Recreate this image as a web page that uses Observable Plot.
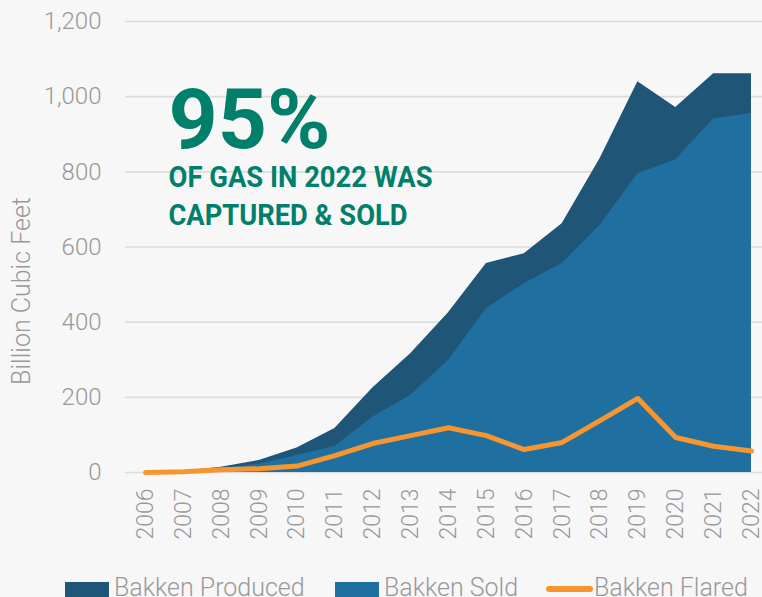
<!DOCTYPE html>
<html><head><meta charset="utf-8">
<script src="https://cdn.jsdelivr.net/npm/d3@7"></script>
<script src="https://cdn.jsdelivr.net/npm/@observablehq/plot@0.6"></script>
<style>
html,body{margin:0;padding:0;background:#f7f7f7;}
body{width:762px;height:597px;overflow:hidden;position:relative;font-family:Roboto,sans-serif;}
#chart{position:absolute;left:0;top:0;}
.lg{position:absolute;font-family:Roboto,sans-serif;font-weight:300;font-size:25px;color:#999;line-height:25px;white-space:nowrap;}
.sw{position:absolute;}
</style></head>
<body>
<div id="chart"></div>
<div id="legend"></div>
<script>
const years = [2006,2007,2008,2009,2010,2011,2012,2013,2014,2015,2016,2017,2018,2019,2020,2021,2022];
const produced = [0,4,14,32,65,117,225,316,425,556,582,662,835,1040,971,1061,1061];
const sold = [0,2,10,22,45,69,147,205,298,436,502,556,657,795,832,941,955];
const flared = [0,2,7,10,17,45,77,98,119,98,61,80,138,197,93,70,57];
const yTicks = [0,200,400,600,800,1000,1200];
const seriesNames = ["Bakken Produced","Bakken Sold","Bakken Flared"];
const colors = ["#1f5678","#1f70a1","#f7962f"];
const headline = "95%";
const sub1 = "OF GAS IN 2022 WAS";
const sub2 = "CAPTURED & SOLD";

const data = years.map((y,i)=>({year:y, produced:produced[i], sold:sold[i], flared:flared[i]}));

const plot = Plot.plot({
  width: 762,
  height: 565,
  marginLeft: 145,
  marginRight: 11,
  marginTop: 21,
  marginBottom: 93,
  style: {background:"transparent", fontFamily:"Roboto, sans-serif", color:"#999"},
  x: {domain:[2006,2022], axis:null},
  y: {domain:[0,1200], axis:null},
  marks: [
    Plot.ruleY(yTicks, {stroke:"#dcdcdc", strokeWidth:1.6, insetLeft:-20, insetRight:-11}),
    Plot.areaY(data, {x:"year", y:"produced", fill:colors[0]}),
    Plot.areaY(data, {x:"year", y:"sold", fill:colors[1]}),
    Plot.line(data, {x:"year", y:"flared", stroke:colors[2], strokeWidth:5, strokeLinejoin:"round", strokeLinecap:"round"}),
    Plot.axisY(yTicks, {tickSize:0, tickPadding:44, fontSize:24, fontWeight:300, fill:"#999", label:null, tickFormat:d=>d3.format(",")(d)}),
    Plot.axisX(years, {tickSize:0, tickPadding:16, tickRotate:-90, fontSize:23, fontWeight:300, fill:"#999", label:null, tickFormat:d=>String(d)}),
    Plot.text(["Billion Cubic Feet"], {frameAnchor:"left", textAnchor:"middle", lineAnchor:"middle", dx:-124, dy:44, rotate:-90, fontSize:25, fontWeight:300, fill:"#999"}),
    Plot.text([headline], {frameAnchor:"top-left", dx:23, dy:126, textAnchor:"start", lineAnchor:"bottom", fontSize:84, fontWeight:"bold", fill:"#00806a"}),
    Plot.text([sub1], {frameAnchor:"top-left", dx:23, dy:165, textAnchor:"start", lineAnchor:"bottom", fontSize:30, fontWeight:"bold", fill:"#00806a"}),
    Plot.text([sub2], {frameAnchor:"top-left", dx:23, dy:203, textAnchor:"start", lineAnchor:"bottom", fontSize:30, fontWeight:"bold", fill:"#00806a"})
  ]
});
document.getElementById("chart").appendChild(plot);

// condense annotation text widths
d3.select(plot).selectAll("text").each(function(){
  const t = this.textContent;
  if (t === sub1) d3.select(this).attr("textLength", 264).attr("lengthAdjust","spacingAndGlyphs");
  if (t === sub2) d3.select(this).attr("textLength", 239).attr("lengthAdjust","spacingAndGlyphs");
  if (t === headline) d3.select(this).attr("textLength", 162).attr("lengthAdjust","spacingAndGlyphs");
});

// legend
const lg = document.getElementById("legend");
const items = [
  {name:seriesNames[0], type:"rect", color:colors[0], sx:65, tx:114},
  {name:seriesNames[1], type:"rect", color:colors[1], sx:335, tx:384},
  {name:seriesNames[2], type:"line", color:colors[2], sx:546, tx:594}
];
items.forEach(it=>{
  const sw = document.createElement("div");
  sw.className = "sw";
  if (it.type === "rect") {
    Object.assign(sw.style, {left:it.sx+"px", top:"582px", width:"44px", height:"16px", background:it.color});
  } else {
    Object.assign(sw.style, {left:it.sx+"px", top:"586px", width:"47px", height:"6px", background:it.color, borderRadius:"3px"});
  }
  lg.appendChild(sw);
  const tx = document.createElement("div");
  tx.className = "lg";
  tx.textContent = it.name;
  Object.assign(tx.style, {left:it.tx+"px", top:"575px"});
  lg.appendChild(tx);
});
</script>
</body></html>
